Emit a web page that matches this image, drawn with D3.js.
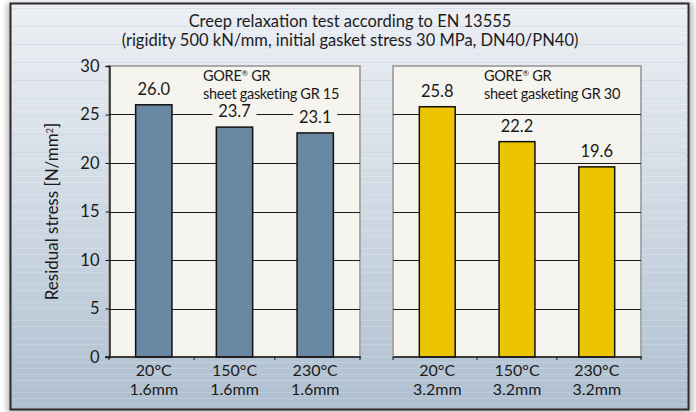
<!DOCTYPE html>
<html>
<head>
<meta charset="utf-8">
<script src="https://cdn.jsdelivr.net/npm/d3@7.9.0/dist/d3.min.js"></script>
<style>
  html, body { margin: 0; padding: 0; background: #fff; }
  svg { display: block; font-family: Lato, "Open Sans", sans-serif; }
</style>
</head>
<body>
<div id="chart"></div>
<script>
const temperatures = ["20°C", "150°C", "230°C"];
const gr15Thickness = ["1.6mm", "1.6mm", "1.6mm"];
const gr30Thickness = ["3.2mm", "3.2mm", "3.2mm"];
const gr15Values = [26.0, 23.7, 23.1];
const gr30Values = [25.8, 22.2, 19.6];
const yTicks = [0, 5, 10, 15, 20, 25, 30];
const titleLines = [
  "Creep relaxation test according to EN 13555",
  "(rigidity 500 kN/mm, initial gasket stress 30 MPa, DN40/PN40)"
];

const width = 696, height = 412;

const svg = d3.select("#chart")
  .append("svg")
    .attr("width", width)
    .attr("height", height);

const defs = svg.append("defs");

// background gradient of the frame
const grad = defs.append("linearGradient")
    .attr("id", "bg")
    .attr("x1", 0).attr("y1", 0).attr("x2", 0).attr("y2", 1);
grad.append("stop").attr("offset", "0%").attr("stop-color", "#eceff4");
grad.append("stop").attr("offset", "45%").attr("stop-color", "#d3dce6");
grad.append("stop").attr("offset", "100%").attr("stop-color", "#aebfd0");

const shadow = defs.append("filter")
    .attr("id", "shadow")
    .attr("x", "-5%").attr("y", "-5%").attr("width", "110%").attr("height", "110%");
shadow.append("feGaussianBlur").attr("stdDeviation", 3);

// frame
svg.append("rect")
    .attr("x", 7).attr("y", 3).attr("width", 686).attr("height", 410)
    .attr("fill", "#888")
    .attr("opacity", 0.6)
    .attr("filter", "url(#shadow)");

svg.append("rect")
    .attr("x", 10.5).attr("y", 3.5).attr("width", 678).attr("height", 406)
    .attr("fill", "url(#bg)")
    .attr("stroke", "#2b2b2b")
    .attr("stroke-width", 2);

// faint stripes in the background
const stripes = d3.range(8, 408, 6);
svg.append("g")
  .selectAll("line")
  .data(stripes)
  .join("line")
    .attr("x1", 12).attr("x2", 688)
    .attr("y1", d => d + 0.5).attr("y2", d => d + 0.5)
    .attr("stroke", (d, i) => i % 3 === 0 ? "#c6cfda" : "#ffffff")
    .attr("stroke-opacity", (d, i) => i % 3 === 0 ? 0.45 : 0.18);

// title
svg.append("g")
  .selectAll("text")
  .data(titleLines)
  .join("text")
    .attr("x", 350)
    .attr("y", (d, i) => 27 + i * 19)
    .attr("text-anchor", "middle")
    .attr("font-size", 16.5)
    .attr("fill", "#1c1c1c")
    .text(d => d);

const y = d3.scaleLinear()
  .domain([0, 30])
  .range([357, 66]);

const panels = [
  {values: gr15Values, thick: gr15Thickness, range: [109, 360], color: "#6888a3",
   legend: "sheet gasketing GR 15", legendX: 203},
  {values: gr30Values, thick: gr30Thickness, range: [393, 641], color: "#ecc400",
   legend: "sheet gasketing GR 30", legendX: 484}
];

const panelFill = "#f5f4ee";

panels.forEach((p, pi) => {
  const x = d3.scaleBand()
    .domain(temperatures)
    .range(p.range)
    .paddingInner(0.55)
    .paddingOuter(0.33);

  const g = svg.append("g");

  // panel background
  g.append("rect")
      .attr("x", p.range[0])
      .attr("y", y(30))
      .attr("width", p.range[1] - p.range[0])
      .attr("height", y(0) - y(30))
      .attr("fill", panelFill)
      .attr("stroke", "#a9a9a9")
      .attr("stroke-width", 2);

  // gridlines
  g.append("g")
    .selectAll("line")
    .data(yTicks.filter(t => t > 0 && t < 30))
    .join("line")
      .attr("x1", p.range[0]).attr("x2", p.range[1])
      .attr("y1", d => Math.round(y(d)) + 0.5)
      .attr("y2", d => Math.round(y(d)) + 0.5)
      .attr("stroke", "#1a1a1a")
      .attr("stroke-width", 1);

  // bars
  const data = d3.zip(temperatures, p.values, p.thick);
  g.append("g")
    .selectAll("rect")
    .data(data)
    .join("rect")
      .attr("x", ([t]) => x(t))
      .attr("y", ([t, v]) => y(v))
      .attr("width", x.bandwidth())
      .attr("height", ([t, v]) => y(0) - y(v))
      .attr("fill", p.color)
      .attr("stroke", "#111")
      .attr("stroke-width", 1.5);

  // value labels with background
  const labels = g.append("g")
    .selectAll("g")
    .data(data)
    .join("g")
      .attr("transform", ([t, v]) => `translate(${x(t) + x.bandwidth() / 2}, ${y(v) - 10})`);
  labels.append("rect")
      .attr("x", -22).attr("y", -14)
      .attr("width", 44).attr("height", 18)
      .attr("fill", panelFill);
  labels.append("text")
      .attr("text-anchor", "middle")
      .attr("font-size", 16.5)
      .attr("fill", "#1a1a1a")
      .text(([t, v]) => v.toFixed(1));

  // legend
  const l1 = g.append("text")
      .attr("x", p.legendX)
      .attr("y", 81)
      .attr("font-size", 14.5)
      .attr("letter-spacing", -0.3)
      .attr("fill", "#1a1a1a");
  l1.append("tspan").text("GORE");
  l1.append("tspan").attr("font-size", 8).attr("baseline-shift", "60%").text("®");
  l1.append("tspan").text(" GR");
  g.append("text")
      .attr("x", p.legendX)
      .attr("y", 99)
      .attr("font-size", 14.5)
      .attr("letter-spacing", -0.3)
      .attr("fill", "#1a1a1a")
      .text(p.legend);

  // bottom axis
  const xAxis = g.append("g")
      .attr("transform", `translate(0, ${y(0)})`);
  xAxis.append("line")
      .attr("x1", p.range[0] - (pi === 0 ? 4 : 0)).attr("x2", p.range[1] + 1)
      .attr("stroke", "#1a1a1a").attr("stroke-width", 1.5);
  xAxis.selectAll(".tk")
    .data(d3.range(4))
    .join("line")
      .attr("class", "tk")
      .attr("x1", i => i === 0 ? p.range[0] : i === 3 ? p.range[1] : x(temperatures[i]) - x.step() * x.paddingInner() / 2)
      .attr("x2", i => i === 0 ? p.range[0] : i === 3 ? p.range[1] : x(temperatures[i]) - x.step() * x.paddingInner() / 2)
      .attr("y1", 0).attr("y2", 3)
      .attr("stroke", "#1a1a1a");

  xAxis.selectAll(".xl")
    .data(data)
    .join("text")
      .attr("class", "xl")
      .attr("x", ([t]) => x(t) + x.bandwidth() / 2)
      .attr("y", 19)
      .attr("text-anchor", "middle")
      .attr("font-size", 16)
      .attr("fill", "#1a1a1a")
      .text(([t]) => t);
  xAxis.selectAll(".xl2")
    .data(data)
    .join("text")
      .attr("class", "xl2")
      .attr("x", ([t]) => x(t) + x.bandwidth() / 2)
      .attr("y", 38)
      .attr("text-anchor", "middle")
      .attr("font-size", 16)
      .attr("fill", "#1a1a1a")
      .text(([t, v, th]) => th);
});

// y axis
const yAxis = svg.append("g")
    .attr("transform", "translate(109.5, 0)")
    .call(d3.axisLeft(y).tickValues(yTicks).tickSize(4).tickPadding(6));
yAxis.select(".domain").attr("stroke", "#1a1a1a").attr("stroke-width", 1.5);
yAxis.selectAll(".tick line").attr("stroke", "#1a1a1a");
yAxis.selectAll(".tick text")
    .attr("font-size", 16.5)
    .attr("font-family", "Lato, sans-serif")
    .attr("fill", "#1a1a1a");

// y title
const yt = svg.append("text")
    .attr("transform", `translate(58, ${(y(0) + y(30)) / 2}) rotate(-90)`)
    .attr("text-anchor", "middle")
    .attr("font-size", 17)
    .attr("fill", "#1a1a1a");
yt.append("tspan").text("Residual stress [N/mm");
yt.append("tspan").attr("font-size", 9).attr("baseline-shift", "super").text("2");
yt.append("tspan").text("]");
</script>
</body>
</html>
